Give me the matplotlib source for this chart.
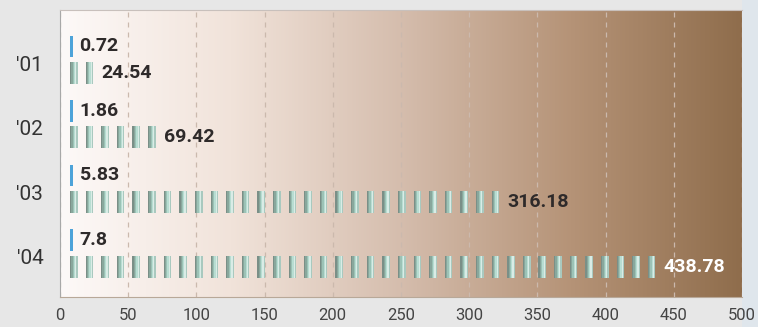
import numpy as np
import matplotlib
matplotlib.use("Agg")
import matplotlib.pyplot as plt
from matplotlib.colors import LinearSegmentedColormap
from matplotlib.patches import Rectangle

years = ["'01", "'02", "'03", "'04"]
small_vals = [0.72, 1.86, 5.83, 7.8]
large_vals = [24.54, 69.42, 316.18, 438.78]

# pictogram settings (data units)
start = 7.3      # where the symbols begin
step = 11.45     # one cylinder per step
seg_w = 5.6
tick_w = 2.0

# shading of one cylinder, left to right
cyl_cols = ['#7a8f87', '#88a79c', '#9cc2b6', '#b8ddd2', '#d9ece6', '#a9c9bf']

plt.rcParams['font.family'] = ['Roboto', 'DejaVu Sans']

fig = plt.figure(figsize=(7.58, 3.27), dpi=100, facecolor='#e7e7e7')
fig.patches.append(Rectangle((742 / 758, 0), 16 / 758, 1, transform=fig.transFigure,
                             facecolor='#dfe6ec', edgecolor='none', zorder=-1))
ax = fig.add_axes([60 / 758, 30 / 327, 682 / 758, 287 / 327])

y = np.arange(len(years))
ylo, yhi = 3.62, -0.82
ax.set_xlim(0, 500)
ax.set_ylim(ylo, yhi)

# background fade
bg = LinearSegmentedColormap.from_list('bg', ['#fdf9f8', '#f1e3da', '#d5bdad', '#b59377', '#8f6d4c'])
grad = np.linspace(0, 1, 256).reshape(1, -1)
ax.imshow(grad, cmap=bg, extent=[0, 500, ylo, yhi], aspect='auto', zorder=0)

ax.grid(axis='x', linestyle=(0, (4, 4)), color='#cbb9ad', linewidth=0.9, zorder=1)
ax.set_axisbelow(True)

off_small, h_small = -0.26, 0.33
off_large, h_large = 0.15, 0.34
slice_w = seg_w / len(cyl_cols)

for i, (sv, lv) in enumerate(zip(small_vals, large_vals)):
    # thin blue marker
    yc = y[i] + off_small
    ax.barh(yc, tick_w, left=start, height=h_small, color='#4da3d9', zorder=3)
    ax.text(start + tick_w + 5, yc, f'{sv:g}', va='center', ha='left', fontsize=14,
            fontweight='bold', color='#2e2a2a', zorder=4)

    # repeated cylinders
    yc = y[i] + off_large
    n = int(round(lv / step))
    lefts = start + np.arange(n) * step
    for j, c in enumerate(cyl_cols):
        ax.barh(np.full(n, yc), slice_w, left=lefts + j * slice_w, height=h_large,
                color=c, linewidth=0, zorder=3)
    end = lefts[-1] + seg_w
    col = 'white' if i == len(years) - 1 else '#2e2a2a'
    ax.text(end + 6, yc, f'{lv:g}', va='center', ha='left', fontsize=14,
            fontweight='bold', color=col, zorder=4)

ax.set_xlim(0, 500)
ax.set_ylim(ylo, yhi)
ax.set_yticks(y)
ax.set_yticklabels(years, fontsize=15, color='#333333')
ax.set_xticks(np.arange(0, 501, 50))
ax.tick_params(axis='x', labelsize=12, colors='#444444', length=0, pad=8)
ax.tick_params(axis='y', length=0, pad=12)
ax.spines['right'].set_visible(False)
ax.spines['top'].set_color('#c8c0bc')
ax.spines['left'].set_color('#a8a8a8')
ax.spines['bottom'].set_color('#b8a898')

fig.savefig('out.png', dpi=100, facecolor=fig.get_facecolor())
